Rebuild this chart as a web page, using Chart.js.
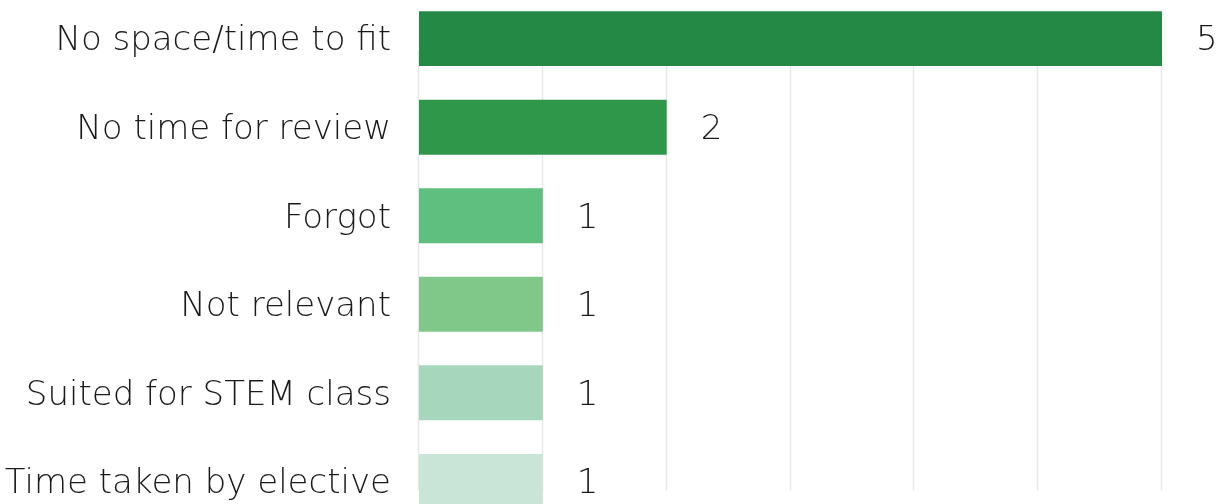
<!DOCTYPE html>
<html>
<head>
<meta charset="utf-8">
<script src="https://cdn.jsdelivr.net/npm/chart.js@4"></script>
<style>
  html, body { margin: 0; padding: 0; background: #fff; overflow: hidden; }
  #wrap { position: absolute; left: 0; top: -46px; width: 1227px; height: 612px; }
</style>
</head>
<body>
<div id="wrap"><canvas id="reasonsChart" width="1227" height="612"></canvas></div>
<script>
// Reasons given, the number printed next to each bar, and the bar length
const reasons = ['No space/time to fit', 'No time for review', 'Forgot', 'Not relevant', 'Suited for STEM class', 'Time taken by elective'];
const counts = [5, 2, 1, 1, 1, 1];
const barLengths = [6, 2, 1, 1, 1, 1];
const barColors = ['#248944', '#2e9749', '#5ebf7e', '#80c78a', '#a6d7bd', '#c8e5d7'];
const gridValues = [0, 1, 2, 3, 4, 5, 6];

const labelFont = { family: "'DejaVu Sans'", size: 34, weight: '200' };

// light vertical grid lines, drawn behind the bars
const gridPlugin = {
    id: 'softGrid',
    beforeDatasetsDraw(chart) {
        const ctx = chart.ctx;
        const x = chart.scales.x;
        const y = chart.scales.y;
        const band = y.getPixelForValue(1) - y.getPixelForValue(0);
        const top = y.getPixelForValue(0) + band * 0.13;
        const bottom = y.getPixelForValue(reasons.length - 1) + band * 0.1;
        ctx.save();
        ctx.strokeStyle = '#e8e8e8';
        ctx.lineWidth = 1.5;
        gridValues.forEach(v => {
            const px = Math.round(x.getPixelForValue(v)) - 0.5;
            ctx.beginPath();
            ctx.moveTo(px, top);
            ctx.lineTo(px, bottom);
            ctx.stroke();
        });
        ctx.restore();
    }
};

// count printed to the right of each bar
const valuePlugin = {
    id: 'barValues',
    afterDatasetsDraw(chart) {
        const ctx = chart.ctx;
        const meta = chart.getDatasetMeta(0);
        ctx.save();
        ctx.font = `${labelFont.weight} ${labelFont.size}px ${labelFont.family}`;
        ctx.fillStyle = '#1a1a1a';
        ctx.textAlign = 'left';
        ctx.textBaseline = 'middle';
        meta.data.forEach((bar, i) => {
            ctx.fillText(String(counts[i]), bar.x + 34, bar.y + 3);
        });
        ctx.restore();
    }
};

const ctx = document.getElementById('reasonsChart').getContext('2d');
const chart = new Chart(ctx, {
    type: 'bar',
    data: {
        labels: reasons,
        datasets: [{
            data: barLengths,
            backgroundColor: barColors,
            borderWidth: 0,
            categoryPercentage: 1,
            barPercentage: 0.62
        }]
    },
    options: {
        indexAxis: 'y',
        responsive: false,
        animation: false,
        layout: { padding: { top: 0, bottom: 0, left: 0, right: 65 } },
        plugins: {
            legend: { display: false },
            tooltip: { enabled: false }
        },
        scales: {
            x: {
                display: false,
                min: 0,
                max: 6
            },
            y: {
                grid: { display: false },
                border: { display: false },
                ticks: {
                    color: '#1a1a1a',
                    font: labelFont,
                    padding: 20,
                    labelOffset: 3
                },
                afterFit(scale) { scale.width = 419; }
            }
        }
    },
    plugins: [gridPlugin, valuePlugin]
});
</script>
</body>
</html>
